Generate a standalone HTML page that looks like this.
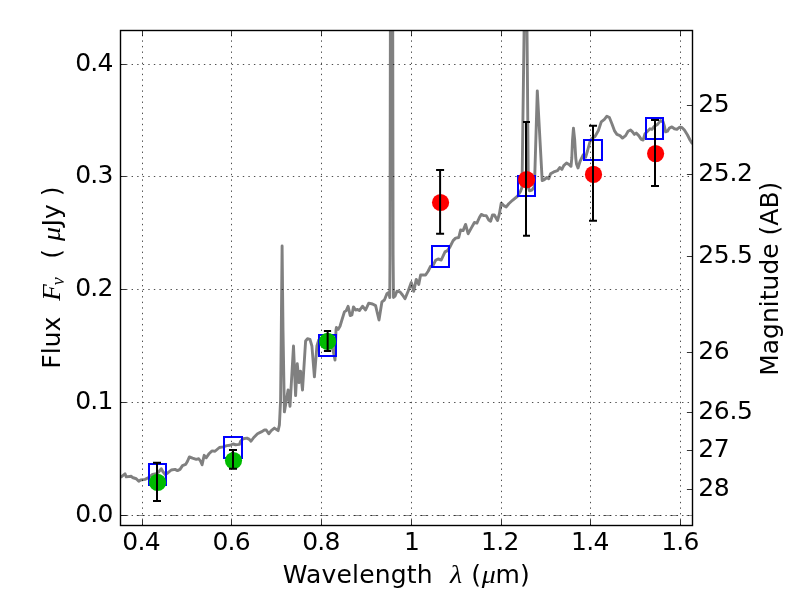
<!DOCTYPE html>
<html lang="en"><head><meta charset="utf-8"><title>SED fit: Flux vs Wavelength</title>
<style>
html,body{margin:0;padding:0;background:#fff;}
body{width:800px;height:600px;overflow:hidden;}
svg{display:block;will-change:transform;}
.t{font-family:"DejaVu Sans","Liberation Sans",sans-serif;font-size:25px;fill:#000;}
.k{letter-spacing:-0.72px;}
.m{font-family:"Liberation Serif","DejaVu Serif",serif;font-style:italic;fill:#000;}
</style></head><body>
<svg width="800" height="600" viewBox="0 0 800 600">
<rect x="0" y="0" width="800" height="600" fill="#ffffff"/>
<defs><clipPath id="ax"><rect x="120.0" y="30.0" width="572.0" height="495.0"/></clipPath></defs>
<g clip-path="url(#ax)">
<polyline points="120.00,477.00 121.25,476.90 125.00,473.75 126.25,476.90 131.25,476.25 132.50,477.50 136.25,478.75 138.75,481.25 140.60,480.00 145.00,479.40 148.75,477.50 152.50,474.40 156.25,473.75 158.75,471.90 161.25,468.75 163.10,471.90 165.00,474.40 167.50,473.10 171.25,470.00 175.00,469.40 177.50,470.60 180.00,469.40 182.50,465.60 185.60,464.40 187.50,461.25 189.40,456.90 192.50,458.10 196.25,459.40 198.75,458.75 200.60,461.25 202.10,464.80 203.30,459.10 204.20,455.30 206.25,457.80 208.75,454.10 211.90,450.90 215.00,451.25 219.40,447.50 223.10,446.90 226.90,445.60 230.00,445.25 233.10,444.00 235.60,444.75 239.40,444.40 240.60,441.25 243.10,438.75 246.90,438.10 249.40,439.40 251.00,441.25 253.75,437.50 257.50,433.75 261.25,431.90 264.40,430.00 266.25,430.00 268.75,433.75 271.25,430.60 274.40,428.10 278.10,430.60 279.40,425.00 280.00,412.50 280.60,400.00 281.30,330.00 282.10,246.00 283.00,330.00 284.40,411.90 288.10,390.00 290.00,406.25 293.50,346.00 295.60,395.60 297.25,363.75 299.00,382.50 300.60,371.25 302.50,390.00 305.60,341.00 307.50,338.75 310.00,339.40 311.90,346.00 314.40,376.90 316.90,346.00 318.75,340.00 322.00,338.00 326.00,340.00 330.00,343.00 333.00,350.00 335.00,360.00 335.50,345.00 336.00,330.00 336.40,327.50 338.10,329.40 340.00,326.25 341.90,320.00 344.40,311.90 346.25,310.60 348.10,306.25 350.25,315.60 351.90,315.00 353.50,306.90 355.60,310.00 357.50,309.40 359.40,310.60 362.50,306.25 365.60,310.00 368.75,303.10 372.50,304.00 375.60,305.60 377.50,313.75 379.00,320.00 380.60,310.00 381.90,301.90 384.40,300.00 386.90,293.75 388.75,292.50 389.75,297.50 390.00,255.00 390.40,10.00 392.70,10.00 393.10,255.00 393.50,297.50 395.00,296.25 396.90,291.25 400.00,291.90 402.50,295.00 405.00,298.75 408.10,291.25 411.25,282.50 413.75,291.25 416.25,279.40 418.75,284.40 420.60,275.00 425.60,275.00 428.10,271.25 430.60,266.25 433.10,265.30 435.60,260.30 438.10,259.00 441.25,260.00 445.00,251.90 447.50,250.60 450.00,246.90 453.10,240.60 455.60,238.10 458.75,237.50 460.60,230.00 463.10,230.60 465.60,224.40 468.10,233.75 471.25,228.10 474.40,222.50 476.90,223.10 479.40,217.50 481.25,214.40 483.75,215.60 486.25,215.60 488.75,220.00 490.60,221.25 492.50,215.00 494.40,215.00 497.50,220.60 499.40,213.75 501.25,203.10 503.75,205.60 506.25,206.90 508.75,203.75 512.50,200.30 517.50,196.25 520.60,191.25 521.90,187.50 522.25,170.00 522.70,135.00 523.45,80.00 524.10,30.00 524.40,8.00 526.85,8.00 527.00,30.00 527.45,80.00 527.90,135.00 528.35,187.00 529.50,190.80 532.00,190.00 534.30,186.50 534.80,174.70 537.30,90.90 542.20,180.60 543.75,180.00 546.90,177.50 548.75,178.75 550.60,173.75 553.75,171.90 557.50,170.60 559.75,167.50 561.90,169.40 563.75,165.60 566.50,163.00 569.00,164.50 571.00,166.30 571.80,158.00 572.50,140.00 573.45,128.20 574.70,140.00 575.75,158.00 576.50,164.00 578.00,168.00 580.00,161.50 583.30,154.70 585.60,157.30 587.60,150.50 590.00,141.50 591.50,138.70 595.00,136.50 598.40,130.50 601.25,121.90 604.40,119.40 606.90,116.20 609.40,117.50 611.90,123.75 614.40,130.60 616.90,134.40 620.00,135.60 622.50,138.10 625.60,135.60 628.10,131.25 630.60,130.00 632.50,131.90 634.40,134.40 636.25,133.10 638.75,135.60 641.25,139.40 643.10,140.00 645.00,133.75 647.50,131.25 650.00,128.75 651.90,129.40 654.40,126.25 657.50,124.40 660.60,120.60 663.10,121.90 664.40,126.25 665.60,131.90 667.50,131.25 669.40,128.10 671.90,126.90 674.40,128.75 676.90,129.40 679.40,127.25 681.90,127.50 684.40,130.00 687.50,135.00 690.00,140.00 692.50,144.00" fill="none" stroke="#808080" stroke-width="2.9" stroke-linejoin="round" stroke-linecap="butt"/>
<rect x="149.00" y="464.00" width="17.00" height="21.00" fill="none" stroke="#0000ff" stroke-width="2.00"/>
<rect x="224.00" y="437.00" width="18.00" height="21.00" fill="none" stroke="#0000ff" stroke-width="2.00"/>
<rect x="319.00" y="335.00" width="17.00" height="21.00" fill="none" stroke="#0000ff" stroke-width="2.00"/>
<rect x="432.00" y="246.00" width="17.00" height="21.00" fill="none" stroke="#0000ff" stroke-width="2.00"/>
<rect x="518.00" y="176.00" width="17.00" height="20.00" fill="none" stroke="#0000ff" stroke-width="2.00"/>
<rect x="584.00" y="140.00" width="18.00" height="20.00" fill="none" stroke="#0000ff" stroke-width="2.00"/>
<rect x="646.00" y="118.00" width="17.00" height="21.00" fill="none" stroke="#0000ff" stroke-width="2.00"/>
</g>
<g stroke="#000" stroke-width="0.7" stroke-dasharray="1.39 4.17" fill="none">
<path d="M142.5 525.5V30.5"/>
<path d="M231.5 525.5V30.5"/>
<path d="M321.5 525.5V30.5"/>
<path d="M411.5 525.5V30.5"/>
<path d="M501.5 525.5V30.5"/>
<path d="M590.5 525.5V30.5"/>
<path d="M680.5 525.5V30.5"/>
<path d="M120.5 515.5H692.5"/>
<path d="M120.5 402.5H692.5"/>
<path d="M120.5 289.5H692.5"/>
<path d="M120.5 176.5H692.5"/>
<path d="M120.5 64.5H692.5"/>
</g>
<path d="M120.0 515.5H692.5" stroke="#000" stroke-width="0.45" stroke-dasharray="8.33 8.33" fill="none"/>
<g clip-path="url(#ax)">
<circle cx="157.60" cy="482.40" r="8.60" fill="#00bb00"/>
<circle cx="233.50" cy="460.60" r="8.60" fill="#00bb00"/>
<circle cx="327.60" cy="341.40" r="8.60" fill="#00bb00"/>
<circle cx="440.55" cy="202.50" r="8.60" fill="#ff0000"/>
<circle cx="526.60" cy="179.60" r="8.60" fill="#ff0000"/>
<circle cx="593.50" cy="174.40" r="8.60" fill="#ff0000"/>
<circle cx="655.60" cy="153.60" r="8.60" fill="#ff0000"/>
<path d="M157.00 462.85V500.90" stroke="#000" stroke-width="2.00" fill="none"/>
<path d="M153.00 462.85H161.00M153.00 500.90H161.00" stroke="#000" stroke-width="2.00" fill="none"/>
<path d="M233.00 450.00V468.75" stroke="#000" stroke-width="2.00" fill="none"/>
<path d="M229.00 450.00H237.00M229.00 468.75H237.00" stroke="#000" stroke-width="2.00" fill="none"/>
<path d="M327.65 331.00V350.90" stroke="#000" stroke-width="2.00" fill="none"/>
<path d="M323.90 331.00H331.10M323.90 350.90H331.10" stroke="#000" stroke-width="2.00" fill="none"/>
<path d="M440.10 170.05V233.80" stroke="#000" stroke-width="2.00" fill="none"/>
<path d="M436.10 170.05H444.10M436.10 233.80H444.10" stroke="#000" stroke-width="2.00" fill="none"/>
<path d="M526.00 122.00V235.80" stroke="#000" stroke-width="2.00" fill="none"/>
<path d="M523.00 122.00H530.00M523.00 235.80H530.00" stroke="#000" stroke-width="2.00" fill="none"/>
<path d="M593.00 125.80V220.70" stroke="#000" stroke-width="2.00" fill="none"/>
<path d="M589.00 125.80H597.00M589.00 220.70H597.00" stroke="#000" stroke-width="2.00" fill="none"/>
<path d="M655.00 120.00V186.00" stroke="#000" stroke-width="2.00" fill="none"/>
<path d="M651.00 120.00H659.00M651.00 186.00H659.00" stroke="#000" stroke-width="2.00" fill="none"/>
</g>
<g stroke="#000" stroke-width="0.8" fill="none">
<path d="M142.5 525.5v-5.6M142.5 30.5v5.6"/>
<path d="M231.5 525.5v-5.6M231.5 30.5v5.6"/>
<path d="M321.5 525.5v-5.6M321.5 30.5v5.6"/>
<path d="M411.5 525.5v-5.6M411.5 30.5v5.6"/>
<path d="M501.5 525.5v-5.6M501.5 30.5v5.6"/>
<path d="M590.5 525.5v-5.6M590.5 30.5v5.6"/>
<path d="M680.5 525.5v-5.6M680.5 30.5v5.6"/>
<path d="M120.5 515.5h5.6"/>
<path d="M120.5 402.5h5.6"/>
<path d="M120.5 289.5h5.6"/>
<path d="M120.5 176.5h5.6"/>
<path d="M120.5 64.5h5.6"/>
<path d="M692.5 105.5h-5.6"/>
<path d="M692.5 174.5h-5.6"/>
<path d="M692.5 256.5h-5.6"/>
<path d="M692.5 352.5h-5.6"/>
<path d="M692.5 412.5h-5.6"/>
<path d="M692.5 450.5h-5.6"/>
<path d="M692.5 489.5h-5.6"/>
</g>
<rect x="120.5" y="30.5" width="572.0" height="495.0" fill="none" stroke="#000" stroke-width="1.4"/>
<text class="t k" x="141.1" y="550" text-anchor="middle">0.4</text>
<text class="t k" x="231.2" y="550" text-anchor="middle">0.6</text>
<text class="t k" x="321.0" y="550" text-anchor="middle">0.8</text>
<text class="t k" x="411.5" y="550" text-anchor="middle">1</text>
<text class="t k" x="499.8" y="550" text-anchor="middle">1.2</text>
<text class="t k" x="589.9" y="550" text-anchor="middle">1.4</text>
<text class="t k" x="680.0" y="550" text-anchor="middle">1.6</text>
<text class="t k" x="112.8" y="521.6" text-anchor="end">0.0</text>
<text class="t k" x="112.8" y="408.9" text-anchor="end">0.1</text>
<text class="t k" x="112.8" y="296.1" text-anchor="end">0.2</text>
<text class="t k" x="112.8" y="183.4" text-anchor="end">0.3</text>
<text class="t k" x="112.8" y="70.6" text-anchor="end">0.4</text>
<text class="t" x="698.2" y="112.2" style="letter-spacing:-0.3px">25</text>
<text class="t" x="698.2" y="181.1" style="letter-spacing:-0.3px">25.2</text>
<text class="t" x="698.2" y="263.3" style="letter-spacing:-0.3px">25.5</text>
<text class="t" x="698.2" y="358.6" style="letter-spacing:-0.3px">26</text>
<text class="t" x="698.2" y="418.8" style="letter-spacing:-0.3px">26.5</text>
<text class="t" x="698.2" y="456.7" style="letter-spacing:-0.3px">27</text>
<text class="t" x="698.2" y="495.8" style="letter-spacing:-0.3px">28</text>
<text class="t" x="282.8" y="583.0" style="letter-spacing:0.17px">Wavelength</text>
<text class="m" transform="translate(449.90 583.00) scale(1.120 0.970)" font-size="25">λ</text>
<text class="t" x="471.2" y="583.0">(</text>
<text class="m" transform="translate(481.80 583.00) scale(1.120 1.000)" font-size="25">μ</text>
<text class="t" x="495.6" y="583.0">m)</text>
<g transform="translate(60.3 368.7) rotate(-90)">
<text class="t" x="0" y="0">Flux</text>
<text class="m" transform="translate(68.00 0.00) scale(1.100 1.000)" font-size="24.5">F</text>
<text class="m" transform="translate(83.50 3.90) scale(1.000 1.000)" font-size="18">ν</text>
<text class="t" x="110.0" y="0">(</text>
<text class="m" transform="translate(127.60 0.00) scale(1.120 1.000)" font-size="25">μ</text>
<text class="t" x="142.3" y="0">Jy )</text>
</g>
<g transform="translate(777.5 375.8) rotate(-90)">
<text class="t" x="0" y="0">Magnitude (AB)</text>
</g>
</svg>
</body></html>
